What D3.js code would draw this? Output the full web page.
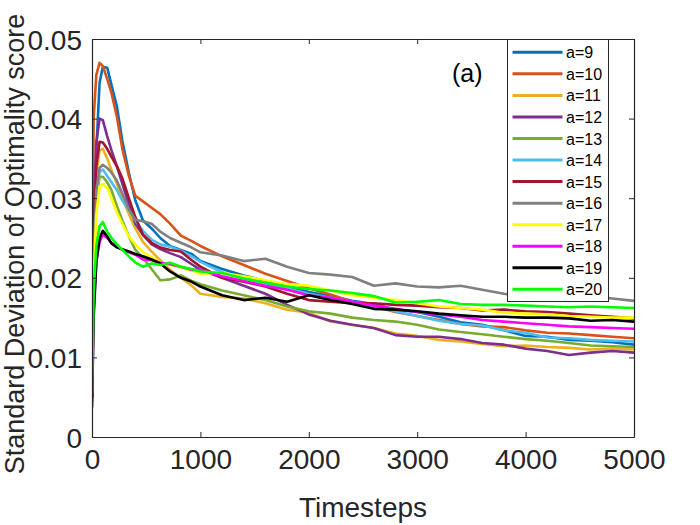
<!DOCTYPE html>
<html>
<head>
<meta charset="utf-8">
<script src="https://cdn.jsdelivr.net/npm/d3@7"></script>
<style>
  html, body { margin: 0; padding: 0; background: #fff; }
  svg { display: block; font-family: "Liberation Sans", Arial, sans-serif; }
</style>
</head>
<body>
<svg id="chart" width="700" height="525"></svg>
<script>
// ---- data ----
const timesteps = [0, 15, 40, 70, 100, 140, 180, 230, 280, 340, 400, 470, 550, 630, 720, 820, 920, 1000, 1200, 1400, 1600, 1800, 2000, 2200, 2400, 2600, 2800, 3000, 3200, 3400, 3600, 3800, 4000, 4200, 4400, 4600, 4800, 5000];

const seriesNames = ["a=9", "a=10", "a=11", "a=12", "a=13", "a=14", "a=15", "a=16", "a=17", "a=18", "a=19", "a=20"];
const seriesColors = ["#0072BD", "#D95319", "#EDB120", "#7E2F8E", "#77AC30", "#4DBEEE", "#A2142F", "#808080", "#FFFF00", "#FF00FF", "#000000", "#00FF00"];

const a9  = [0.0050, 0.022, 0.036, 0.0445, 0.0465, 0.0464, 0.0442, 0.0415, 0.0372, 0.0332, 0.0297, 0.0272, 0.0262, 0.0250, 0.0240, 0.0235, 0.0230, 0.0221, 0.0211, 0.0203, 0.0196, 0.0189, 0.0182, 0.0177, 0.0171, 0.0167, 0.0160, 0.0157, 0.0151, 0.0144, 0.0141, 0.0134, 0.0127, 0.0126, 0.0122, 0.0121, 0.0119, 0.0116];
const a10 = [0.0055, 0.040, 0.0455, 0.0470, 0.0466, 0.0450, 0.0432, 0.0402, 0.0362, 0.0328, 0.0303, 0.0296, 0.0288, 0.0280, 0.0268, 0.0253, 0.0246, 0.0240, 0.0227, 0.0216, 0.0205, 0.0196, 0.0187, 0.0179, 0.0170, 0.0164, 0.0157, 0.0152, 0.0147, 0.0142, 0.0139, 0.0138, 0.0134, 0.0131, 0.0130, 0.0128, 0.0126, 0.0124];
const a11 = [0.0050, 0.025, 0.033, 0.0360, 0.0362, 0.0350, 0.0335, 0.0318, 0.0300, 0.0280, 0.0262, 0.0245, 0.0233, 0.0222, 0.0210, 0.0200, 0.0190, 0.0180, 0.0176, 0.0174, 0.0168, 0.0160, 0.0156, 0.0145, 0.0141, 0.0137, 0.0130, 0.0127, 0.0122, 0.0120, 0.0117, 0.0114, 0.0115, 0.0113, 0.0112, 0.0110, 0.0111, 0.0110];
const a12 = [0.0050, 0.028, 0.037, 0.0400, 0.0398, 0.0378, 0.0360, 0.0340, 0.0318, 0.0292, 0.0268, 0.0254, 0.0242, 0.0236, 0.0231, 0.0226, 0.0217, 0.0210, 0.0200, 0.0190, 0.0180, 0.0166, 0.0154, 0.0146, 0.0141, 0.0137, 0.0128, 0.0126, 0.0126, 0.0123, 0.0118, 0.0116, 0.0111, 0.0108, 0.0103, 0.0106, 0.0108, 0.0106];
const a13 = [0.0050, 0.022, 0.030, 0.0327, 0.0327, 0.0320, 0.0310, 0.0290, 0.0272, 0.0252, 0.0235, 0.0225, 0.0211, 0.0197, 0.0198, 0.0203, 0.0196, 0.0192, 0.0184, 0.0178, 0.0172, 0.0164, 0.0158, 0.0155, 0.0150, 0.0147, 0.0145, 0.0141, 0.0135, 0.0132, 0.0129, 0.0126, 0.0123, 0.0121, 0.0118, 0.0115, 0.0114, 0.0113];
const a14 = [0.0050, 0.022, 0.030, 0.0333, 0.0336, 0.0328, 0.0320, 0.0310, 0.0297, 0.0285, 0.0272, 0.0259, 0.0248, 0.0242, 0.0239, 0.0234, 0.0227, 0.0220, 0.0207, 0.0199, 0.0193, 0.0187, 0.0180, 0.0175, 0.0170, 0.0164, 0.0158, 0.0152, 0.0146, 0.0142, 0.0140, 0.0134, 0.0131, 0.0125, 0.0124, 0.0122, 0.0121, 0.0120];
const a15 = [0.0050, 0.026, 0.034, 0.0371, 0.0370, 0.0362, 0.0352, 0.0340, 0.0325, 0.0300, 0.0276, 0.0254, 0.0244, 0.0238, 0.0235, 0.0233, 0.0222, 0.0214, 0.0200, 0.0195, 0.0189, 0.0180, 0.0172, 0.0170, 0.0168, 0.0168, 0.0166, 0.0165, 0.0163, 0.0162, 0.0159, 0.0160, 0.0158, 0.0157, 0.0155, 0.0153, 0.0151, 0.0149];
const a16 = [0.0050, 0.022, 0.031, 0.0338, 0.0342, 0.0338, 0.0332, 0.0322, 0.0306, 0.0286, 0.0273, 0.0271, 0.0268, 0.0258, 0.0250, 0.0244, 0.0238, 0.0232, 0.0228, 0.0221, 0.0224, 0.0214, 0.0206, 0.0204, 0.0201, 0.0190, 0.0193, 0.0189, 0.0188, 0.0190, 0.0185, 0.0180, 0.0176, 0.0177, 0.0176, 0.0177, 0.0174, 0.0171];
const a17 = [0.0050, 0.020, 0.028, 0.0315, 0.0318, 0.0313, 0.0300, 0.0282, 0.0268, 0.0252, 0.0242, 0.0232, 0.0226, 0.0219, 0.0216, 0.0213, 0.0209, 0.0205, 0.0206, 0.0202, 0.0197, 0.0192, 0.0190, 0.0184, 0.0178, 0.0175, 0.0172, 0.0168, 0.0164, 0.0162, 0.0160, 0.0156, 0.0155, 0.0154, 0.0152, 0.0151, 0.0150, 0.0150];
const a18 = [0.0045, 0.016, 0.022, 0.0245, 0.0254, 0.0250, 0.0244, 0.0240, 0.0235, 0.0232, 0.0229, 0.0223, 0.0222, 0.0219, 0.0217, 0.0214, 0.0210, 0.0210, 0.0202, 0.0196, 0.0190, 0.0185, 0.0178, 0.0175, 0.0170, 0.0165, 0.0161, 0.0157, 0.0154, 0.0151, 0.0147, 0.0145, 0.0143, 0.0141, 0.0139, 0.0138, 0.0137, 0.0136];
const a19 = [0.0037, 0.015, 0.022, 0.0250, 0.0259, 0.0252, 0.0243, 0.0238, 0.0236, 0.0233, 0.0230, 0.0227, 0.0223, 0.0218, 0.0208, 0.0200, 0.0195, 0.0189, 0.0178, 0.0172, 0.0175, 0.0170, 0.0178, 0.0172, 0.0167, 0.0161, 0.0160, 0.0158, 0.0155, 0.0153, 0.0151, 0.0151, 0.0150, 0.0150, 0.0149, 0.0146, 0.0147, 0.0145];
const a20 = [0.0055, 0.018, 0.024, 0.0265, 0.0270, 0.0258, 0.0250, 0.0242, 0.0235, 0.0227, 0.0219, 0.0214, 0.0218, 0.0216, 0.0219, 0.0214, 0.0211, 0.0208, 0.0206, 0.0199, 0.0194, 0.0189, 0.0186, 0.0184, 0.0181, 0.0177, 0.0169, 0.0170, 0.0172, 0.0167, 0.0166, 0.0166, 0.0165, 0.0164, 0.0163, 0.0164, 0.0163, 0.0162];

const seriesValues = [a9, a10, a11, a12, a13, a14, a15, a16, a17, a18, a19, a20];

const xTicks = [0, 1000, 2000, 3000, 4000, 5000];
const yTicks = [0, 0.01, 0.02, 0.03, 0.04, 0.05];
const xLabel = "Timesteps";
const yLabel = "Standard Deviation of Optimality score";
const panelTag = "(a)";

// ---- layout ----
const L = 92, R = 634, T = 39, B = 437;
const axisColor = "#262626";

const svg = d3.select("#chart");
const x = d3.scaleLinear().domain([0, 5000]).range([L, R]);
const y = d3.scaleLinear().domain([0, 0.05]).range([B, T]);

// clip
svg.append("defs").append("clipPath").attr("id", "plotclip")
  .append("rect").attr("x", L).attr("y", T).attr("width", R - L).attr("height", B - T);

// series
const line = d3.line().x(d => x(d[0])).y(d => y(d[1]));
const gLines = svg.append("g").attr("clip-path", "url(#plotclip)");
seriesValues.forEach((vals, i) => {
  const pts = timesteps.map((t, k) => [t, vals[k]]);
  gLines.append("path")
    .attr("d", line(pts))
    .attr("fill", "none")
    .attr("stroke", seriesColors[i])
    .attr("stroke-width", 2.6)
    .attr("stroke-linejoin", "round");
});

// axes
const fs = 28;
const gx = svg.append("g").attr("transform", `translate(0,${B})`)
  .call(d3.axisBottom(x).tickValues(xTicks).tickFormat(d3.format("d")).tickSizeInner(-5).tickSizeOuter(0).tickPadding(12));
const gxTop = svg.append("g").attr("transform", `translate(0,${T})`)
  .call(d3.axisTop(x).tickValues(xTicks).tickFormat("").tickSizeInner(-5).tickSizeOuter(0));
const gy = svg.append("g").attr("transform", `translate(${L},0)`)
  .call(d3.axisLeft(y).tickValues(yTicks).tickFormat(d => d === 0 ? "0" : d3.format(".2f")(d)).tickSizeInner(-5).tickSizeOuter(0).tickPadding(10));
const gyRight = svg.append("g").attr("transform", `translate(${R},0)`)
  .call(d3.axisRight(y).tickValues(yTicks).tickFormat("").tickSizeInner(-5).tickSizeOuter(0));

[gx, gxTop, gy, gyRight].forEach(g => {
  g.select(".domain").attr("stroke", axisColor).attr("stroke-width", 1.2);
  g.selectAll(".tick line").attr("stroke", axisColor).attr("stroke-width", 1);
  g.selectAll(".tick text").attr("fill", axisColor).attr("font-size", fs)
    .attr("font-family", "Liberation Sans, Arial, sans-serif");
});
gx.selectAll(".tick text").attr("dy", "0.71em");
gy.selectAll(".tick text").attr("dy", "0.36em");

// axis labels
svg.append("text")
  .attr("x", (L + R) / 2).attr("y", 517)
  .attr("text-anchor", "middle")
  .attr("font-size", fs).attr("fill", axisColor)
  .text(xLabel);

svg.append("text")
  .attr("transform", `translate(23.5,${(T + B) / 2 + 6}) rotate(-90)`)
  .attr("text-anchor", "middle")
  .attr("font-size", 27).attr("fill", axisColor)
  .text(yLabel);

// panel tag
svg.append("text")
  .attr("x", 452).attr("y", 82)
  .attr("font-size", 25).attr("fill", "#000")
  .text(panelTag);

// legend
const lgX = 507.5, lgY = 39.5, lgW = 101, lgH = 262;
const lg = svg.append("g");
lg.append("rect").attr("x", lgX).attr("y", lgY).attr("width", lgW).attr("height", lgH)
  .attr("fill", "#fff").attr("stroke", axisColor).attr("stroke-width", 1);
const rowStep = 21.55, row0 = 52.3;
seriesNames.forEach((name, i) => {
  const yy = row0 + i * rowStep;
  lg.append("line").attr("x1", 512.5).attr("x2", 562.5).attr("y1", yy).attr("y2", yy)
    .attr("stroke", seriesColors[i]).attr("stroke-width", 3);
  lg.append("text").attr("x", 566).attr("y", yy + 6)
    .attr("font-size", 16).attr("fill", "#000").text(name);
});
</script>
</body>
</html>
